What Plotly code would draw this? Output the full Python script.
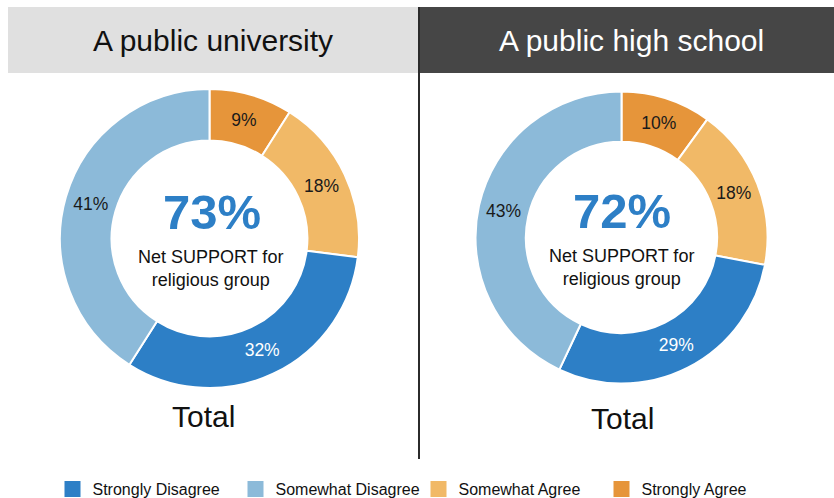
import plotly.graph_objects as go

W, H = 834, 498

# Response categories (legend order) and their colours
categories = ["Strongly Disagree", "Somewhat Disagree", "Somewhat Agree", "Strongly Agree"]
colors = ["#2d7fc6", "#8cbad9", "#f1b967", "#e6953a"]
label_colors = ["#ffffff", "#1a1a1a", "#1a1a1a", "#1a1a1a"]

# Share of respondents (%) per category
university = [32, 41, 18, 9]
high_school = [29, 43, 18, 10]

panel_titles = ["A public university", "A public high school"]
# Order of slices clockwise from 12 o'clock
slice_order = [3, 2, 0, 1]

FONT = "Liberation Sans, Arial, Helvetica, sans-serif"


def px_x(x):
    return x / W


def px_y(y):
    return 1 - y / H


fig = go.Figure()

# Donut geometry in pixels: (centre x, centre y, radius)
donuts = [(209.5, 238.5, 149.5), (621.5, 237.5, 146)]

for values, (cx, cy, r) in zip([university, high_school], donuts):
    fig.add_trace(go.Pie(
        labels=[categories[i] for i in slice_order],
        values=[values[i] for i in slice_order],
        marker=dict(colors=[colors[i] for i in slice_order],
                    line=dict(color="white", width=2)),
        sort=False,
        direction="clockwise",
        rotation=0,
        hole=0.655,
        texttemplate="%{value}%",
        textposition="inside",
        insidetextorientation="horizontal",
        insidetextfont=dict(family=FONT, size=17.5,
                            color=[label_colors[i] for i in slice_order]),
        hoverinfo="label+value",
        showlegend=False,
        domain=dict(x=[px_x(cx - r), px_x(cx + r)],
                    y=[px_y(cy + r), px_y(cy - r)]),
    ))

# Legend entries
for name, c in zip(categories, colors):
    fig.add_trace(go.Scatter(
        x=[None], y=[None], mode="markers", name=name,
        marker=dict(symbol="square", size=16, color=c),
    ))

shapes = [
    dict(type="rect", xref="paper", yref="paper",
         x0=px_x(8), x1=px_x(418), y0=px_y(73), y1=px_y(7),
         fillcolor="#e0e0e0", line=dict(width=0), layer="below"),
    dict(type="rect", xref="paper", yref="paper",
         x0=px_x(419), x1=px_x(834), y0=px_y(73), y1=px_y(7),
         fillcolor="#464646", line=dict(width=0), layer="below"),
    dict(type="line", xref="paper", yref="paper",
         x0=px_x(419), x1=px_x(419), y0=px_y(7), y1=px_y(459),
         line=dict(color="#2b2b2b", width=2)),
]

annotations = []
title_pos = [(213, "#111111"), (631, "#ffffff")]
for title, (tx, tc) in zip(panel_titles, title_pos):
    annotations.append(dict(
        text=title, x=px_x(tx), y=px_y(40), xref="paper", yref="paper",
        showarrow=False, xanchor="center", yanchor="middle",
        font=dict(family=FONT, size=30, color=tc)))

centre_x = [212, 622]
total_pos = [(203.5, 416), (622, 418)]
for values, (cx, cy, r), mx, (tx, ty) in zip(
        [university, high_school], donuts, centre_x, total_pos):
    net = values[0] + values[1]
    annotations.append(dict(
        text=f"<b>{net}%</b>", x=px_x(mx), y=px_y(cy - 26.5),
        xref="paper", yref="paper", showarrow=False,
        xanchor="center", yanchor="middle",
        font=dict(family=FONT, size=49, color=colors[0])))
    annotations.append(dict(
        text="Net SUPPORT for<br>religious group", x=px_x(mx - 1),
        y=px_y(cy + 30),
        xref="paper", yref="paper", showarrow=False,
        xanchor="center", yanchor="middle", align="center",
        font=dict(family=FONT, size=18, color="#111111")))
    annotations.append(dict(
        text="Total", x=px_x(tx), y=px_y(ty),
        xref="paper", yref="paper", showarrow=False,
        xanchor="center", yanchor="middle",
        font=dict(family=FONT, size=30, color="#111111")))

fig.update_layout(
    width=W, height=H,
    margin=dict(l=0, r=0, t=0, b=0, autoexpand=False),
    paper_bgcolor="white", plot_bgcolor="white",
    xaxis=dict(visible=False), yaxis=dict(visible=False),
    shapes=shapes, annotations=annotations,
    legend=dict(orientation="h", x=px_x(52.5), y=px_y(489),
                xanchor="left", yanchor="middle",
                entrywidth=138, entrywidthmode="pixels",
                font=dict(family=FONT, size=16, color="#111111"),
                bgcolor="rgba(0,0,0,0)"),
)

fig.write_html("out.html")
